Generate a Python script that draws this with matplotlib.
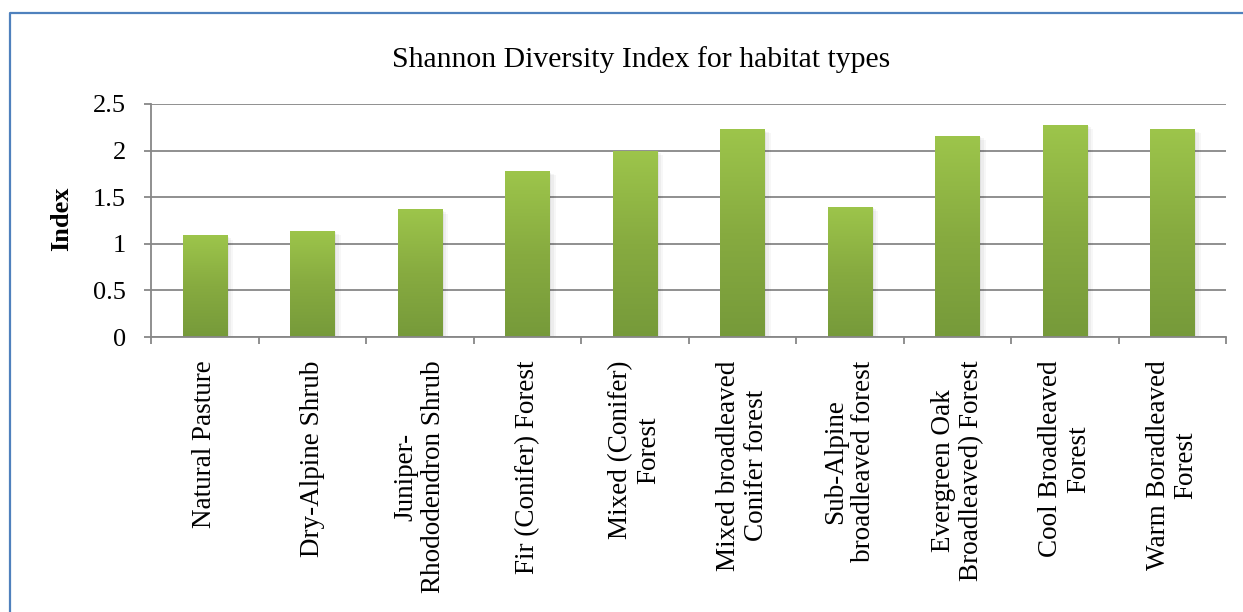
import numpy as np
import matplotlib
matplotlib.use("Agg")
import matplotlib.pyplot as plt
from matplotlib.colors import LinearSegmentedColormap
from matplotlib.lines import Line2D
from matplotlib.ticker import FixedLocator

# Habitat types and their Shannon diversity index values
habitats = [
    "Natural Pasture",
    "Dry-Alpine Shrub",
    "Juniper-\nRhododendron Shrub",
    "Fir (Conifer) Forest",
    "Mixed (Conifer)\nForest",
    "Mixed broadleaved\nConifer forest",
    "Sub-Alpine\nbroadleaved forest",
    "Evergreen Oak\nBroadleaved) Forest",
    "Cool Broadleaved\nForest",
    "Warm Boradleaved\nForest",
]
shannon_index = [1.09, 1.14, 1.37, 1.78, 2.00, 2.23, 1.40, 2.16, 2.28, 2.23]
y_ticks = [0, 0.5, 1, 1.5, 2, 2.5]
y_tick_labels = ["0", "0.5", "1", "1.5", "2", "2.5"]

title_text = "Shannon Diversity Index for habitat types"
y_label = "Index"

plt.rcParams["font.family"] = ["Liberation Serif", "DejaVu Serif"]

W, H = 1243, 612
fig = plt.figure(figsize=(W / 100, H / 100), dpi=100)
ax = fig.add_axes([151 / W, 1 - 337 / H, (1226 - 151) / W, (337 - 104) / H])

grid_color = "#878787"
x = np.arange(len(habitats))
bar_w = 0.41

# gradient fill for the bars (lighter at the top, darker at the bottom)
cmap = LinearSegmentedColormap.from_list("greens", ["#769a3a", "#87ab40", "#9dc54b"])
grad = np.linspace(0, 1, 256).reshape(-1, 1)

# soft shadow behind each bar
for xi, v in zip(x, shannon_index):
    for k, a in enumerate([0.05, 0.04, 0.03]):
        off = 0.01 * (k + 1)
        ax.bar(xi + off, v + 0.005 * (k + 1), width=bar_w + 2 * off, bottom=-0.02 * (k + 1),
               color="black", alpha=a, linewidth=0, zorder=2)

bars = ax.bar(x, shannon_index, width=bar_w, color="#8bb043", linewidth=0, zorder=3)
for b in bars:
    x0, y0 = b.get_x(), b.get_y()
    im = ax.imshow(grad, extent=(x0, x0 + b.get_width(), y0, y0 + b.get_height()),
                   origin="lower", cmap=cmap, aspect="auto", zorder=4)
    im.set_clip_path(b)

ax.set_xlim(-0.5, len(habitats) - 0.5)
ax.set_ylim(0, 2.5)
ax.set_yticks(y_ticks)
ax.set_yticklabels(y_tick_labels)

ax.grid(axis="y", color=grid_color, linewidth=1.3, zorder=1)
ax.set_axisbelow(True)

for s in ["top", "right"]:
    ax.spines[s].set_visible(False)
for s in ["left", "bottom"]:
    ax.spines[s].set_color(grid_color)
    ax.spines[s].set_linewidth(1.3)
    ax.spines[s].set_zorder(5)

ax.set_xticks(x)
ax.set_xticklabels(habitats, rotation=90, fontsize=19.5, ha="center", va="top",
                   multialignment="center", linespacing=1.15)
ax.xaxis.set_minor_locator(FixedLocator(np.arange(-0.5, len(habitats), 1.0)))
ax.tick_params(axis="x", which="major", length=0, pad=17)
ax.tick_params(axis="x", which="minor", length=5, width=1.3, color=grid_color, direction="out")
ax.tick_params(axis="y", which="major", length=5, width=1.3, color=grid_color,
               direction="out", labelsize=19, pad=13)

fig.text(62 / W, 1 - 219 / H, y_label, rotation=90, fontsize=19, fontweight="bold",
         ha="center", va="center")
fig.text(641.5 / W, 1 - 60 / H, title_text, fontsize=21.4, ha="center", va="center")

# chart frame
fig.add_artist(Line2D([10 / W, 10 / W, 1.01], [-0.01, 1 - 13 / H, 1 - 13 / H],
                      transform=fig.transFigure, color="#4f81bd", linewidth=1.6))

fig.savefig("out.png", dpi=100)
